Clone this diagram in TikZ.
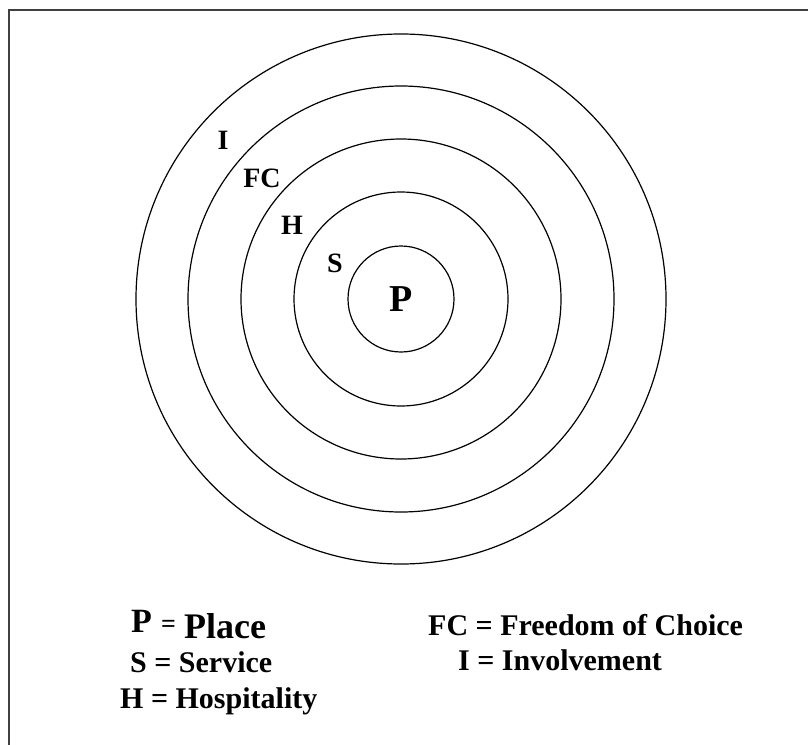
\documentclass[tikz,border=0pt]{standalone}
\usepackage{fontspec}
\setmainfont{Liberation Serif}
\usetikzlibrary{positioning}

\tikzset{
  ring/.style={line width=1.2pt, black},
  ringlbl/.style={font=\fontsize{28}{30}\selectfont\bfseries, inner sep=0pt},
  keyline/.style={anchor=base west, inner sep=0pt, font=\fontsize{30}{32}\selectfont\bfseries}
}

\begin{document}
\begin{tikzpicture}[x=1pt, y=-1pt]

        % page size and the frame (only top and left edges show)
        \useasboundingbox (0,0) rectangle (808,744);
        \draw[line width=2pt, black!75] (818,10) -- (9,10) -- (9,754);

        % centre of the rings
        \coordinate (O) at (401, 299);

        % the five rings
        \draw[ring] (O) circle (53pt);
        \draw[ring] (O) circle (107pt);
        \draw[ring] (O) circle (160pt);
        \draw[ring] (O) circle (213pt);
        \draw[ring] (O) circle (265pt);

        % letters inside the rings
        \node[ringlbl, font=\fontsize{38}{40}\selectfont\bfseries] (P) at (O) {P};
        \node[ringlbl] (S) at (335, 263) {S};
        \node[ringlbl] (H) at (292, 225) {H};
        \node[ringlbl] (FC) at (262, 178) {FC};
        \node[ringlbl] (I) at (223, 140) {I};

        % key, left column
        \node[keyline, font=\fontsize{34}{36}\selectfont\bfseries] (keyP) at (131, 632) {P};
        \node[keyline, font=\fontsize{26}{28}\selectfont\bfseries] (keyEq) at (161, 632) {=};
        \node[keyline, font=\fontsize{36}{38}\selectfont\bfseries] (keyPlace) at (184, 638) {Place};
        \node[keyline] (keyS) at (130, 672) {S = Service};
        \node[keyline] (keyH) at (120, 708) {H = Hospitality};

        % key, right column
        \node[keyline] (keyFC) at (428, 635) {FC = Freedom of Choice};
        \node[keyline] (keyI) at (458, 670) {I = Involvement};

\end{tikzpicture}
\end{document}
